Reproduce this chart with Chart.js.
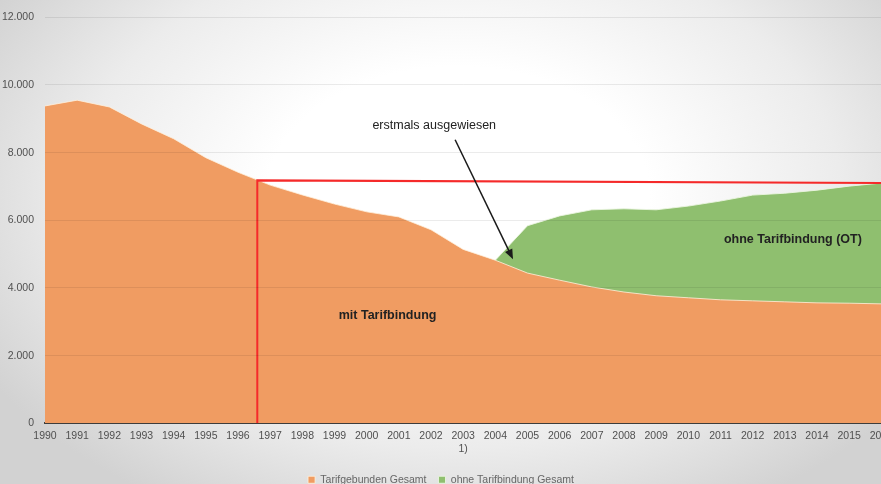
<!DOCTYPE html>
<html>
<head>
<meta charset="utf-8">
<script src="https://cdn.jsdelivr.net/npm/chart.js@4/dist/chart.umd.min.js"></script>
<style>
  html, body { margin: 0; padding: 0; width: 881px; height: 484px; overflow: hidden; }
  body {
    background:
      radial-gradient(ellipse 62% 75% at 52% 40%, #ffffff 35%, #ececec 70%, #d2d2d2 100%);
  }
  #wrap { position: absolute; left: 0; top: 0; width: 900px; height: 500px; }
</style>
</head>
<body>
<div id="wrap"><canvas id="tarifChart"></canvas></div>
<script>
// years on the x axis
const years = [1990, 1991, 1992, 1993, 1994, 1995, 1996, 1997, 1998, 1999, 2000, 2001, 2002,
  2003, 2004, 2005, 2006, 2007, 2008, 2009, 2010, 2011, 2012, 2013, 2014, 2015, 2016];

// Tarifgebunden Gesamt
const tarifgebunden = [9380, 9550, 9350, 8850, 8410, 7850, 7420, 7040, 6750, 6480, 6250, 6100, 5720,
  5140, 4820, 4440, 4230, 4030, 3880, 3770, 3710, 3650, 3620, 3590, 3560, 3550, 3530];

// ohne Tarifbindung Gesamt (erst ab 2004 ausgewiesen)
const ohneTarif = [null, null, null, null, null, null, null, null, null, null, null, null, null,
  null, 0, 1400, 1900, 2280, 2460, 2540, 2710, 2920, 3125, 3210, 3330, 3460, 3570];

// footnote marks under tick labels
const footnotes = { 2003: "1)" };

// red reference frame (x = year, y = value)
const markerX = [1996.6, 1996.6, 2016];
const markerY = [0, 7180, 7100];

const yTicks = [0, 2000, 4000, 6000, 8000, 10000, 12000];

function fmt(v) {
  return String(v).replace(/\B(?=(\d{3})+(?!\d))/g, ".");
}

Chart.defaults.font.family = "'Liberation Sans', Arial, sans-serif";
Chart.defaults.color = "#505050";

const annotations = {
  id: "annotations",
  afterDatasetsDraw(chart) {
    const { ctx, scales: { x, y } } = chart;
    ctx.save();
    ctx.fillStyle = "#222";
    ctx.textAlign = "center";
    ctx.textBaseline = "middle";
    ctx.font = "12.5px 'Liberation Sans', Arial, sans-serif";
    ctx.fillText("erstmals ausgewiesen", x.getPixelForValue(2002.1), y.getPixelForValue(8790));
    ctx.font = "bold 12.5px 'Liberation Sans', Arial, sans-serif";
    ctx.fillText("mit Tarifbindung", x.getPixelForValue(2000.65), y.getPixelForValue(3180));
    ctx.fillText("ohne Tarifbindung (OT)", x.getPixelForValue(2013.25), y.getPixelForValue(5430));

    // arrow
    const x1 = x.getPixelForValue(2002.75), y1 = y.getPixelForValue(8380);
    const x2 = x.getPixelForValue(2004.55), y2 = y.getPixelForValue(4850);
    const ang = Math.atan2(y2 - y1, x2 - x1);
    ctx.strokeStyle = "#1a1a1a";
    ctx.lineWidth = 1.5;
    ctx.beginPath();
    ctx.moveTo(x1, y1);
    ctx.lineTo(x2 - 6 * Math.cos(ang), y2 - 6 * Math.sin(ang));
    ctx.stroke();
    ctx.fillStyle = "#1a1a1a";
    ctx.beginPath();
    ctx.moveTo(x2, y2);
    ctx.lineTo(x2 - 10 * Math.cos(ang) + 4 * Math.sin(ang), y2 - 10 * Math.sin(ang) - 4 * Math.cos(ang));
    ctx.lineTo(x2 - 10 * Math.cos(ang) - 4 * Math.sin(ang), y2 - 10 * Math.sin(ang) + 4 * Math.cos(ang));
    ctx.closePath();
    ctx.fill();
    ctx.restore();
  }
};

const ctx = document.getElementById("tarifChart").getContext("2d");
const chart = new Chart(ctx, {
  type: "line",
  data: {
    datasets: [
      {
        label: "Tarifgebunden Gesamt",
        data: years.map((yr, i) => ({ x: yr, y: tarifgebunden[i] })),
        backgroundColor: "#F09C62",
        borderColor: "rgba(255,240,220,0.8)",
        borderWidth: 1,
        pointRadius: 0,
        fill: "origin",
        tension: 0,
        stack: "main",
        order: 1
      },
      {
        label: "ohne Tarifbindung Gesamt",
        data: years.map((yr, i) => ({ x: yr, y: ohneTarif[i] })).filter(p => p.y !== null),
        backgroundColor: "#8FBF6F",
        borderColor: "rgba(235,245,225,0.9)",
        borderWidth: 1,
        pointRadius: 0,
        fill: "origin",
        tension: 0,
        stack: "main",
        order: 2
      },
      {
        label: "marker",
        data: markerX.map((v, i) => ({ x: v, y: markerY[i] })),
        borderColor: "#F52A2A",
        borderWidth: 2,
        pointRadius: 0,
        fill: false,
        tension: 0,
        stack: "anno",
        order: 0
      }
    ]
  },
  plugins: [annotations],
  options: {
    responsive: true,
    maintainAspectRatio: false,
    animation: false,
    layout: { padding: { top: 13, right: 18, bottom: 5, left: 0 } },
    plugins: {
      tooltip: { enabled: false },
      legend: {
        position: "bottom",
        labels: {
          filter: (item) => item.text !== "marker",
          boxWidth: 7,
          boxHeight: 7,
          padding: 12,
          color: "#666",
          font: { size: 10.5 }
        }
      }
    },
    scales: {
      x: {
        type: "linear",
        min: 1990,
        max: 2016,
        grid: { display: false, drawTicks: false },
        border: { color: "#404040", width: 2 },
        ticks: {
          stepSize: 1,
          padding: 7,
          autoSkip: false,
          maxRotation: 0,
          font: { size: 10.5 },
          color: "#505050",
          callback: (v) => footnotes[v] ? [String(v), footnotes[v]] : String(v)
        }
      },
      y: {
        stacked: true,
        min: 0,
        max: 12000,
        afterFit: (scale) => { scale.width = 45; },
        afterBuildTicks: (scale) => { scale.ticks = yTicks.map(v => ({ value: v })); },
        grid: { color: "rgba(0,0,0,0.08)", drawTicks: false, z: 1 },
        border: { display: false },
        ticks: {
          padding: 11,
          font: { size: 10.5 },
          color: "#505050",
          callback: (v) => fmt(v)
        }
      }
    }
  }
});
</script>
</body>
</html>
